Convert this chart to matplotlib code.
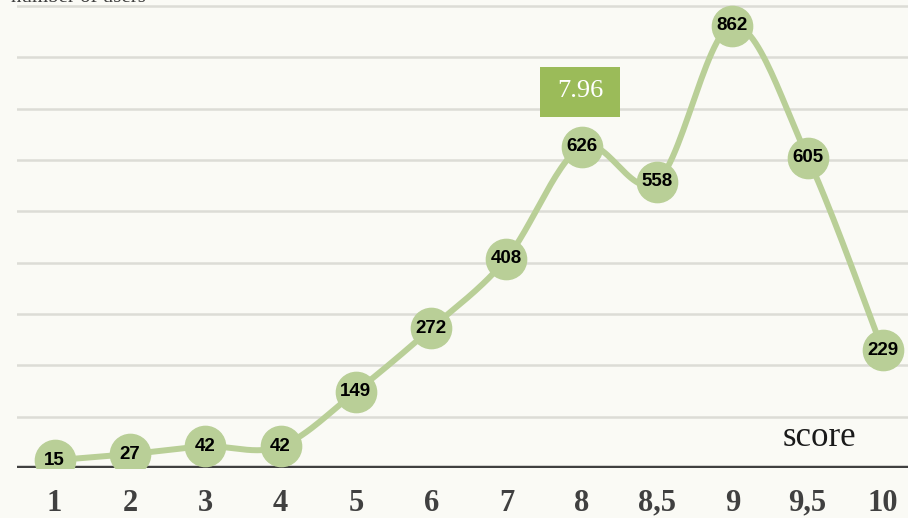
import numpy as np
import matplotlib.pyplot as plt
from matplotlib.patches import Rectangle

# score buckets and how many ratings landed in each
scores = ['1', '2', '3', '4', '5', '6', '7', '8', '8,5', '9', '9,5', '10']
counts = [15, 27, 42, 42, 149, 272, 408, 626, 558, 862, 605, 229]
mean_score = '7.96'

bg = '#fafaf5'
green = '#b9cf97'
box_green = '#9bbb59'


def smooth(xs, ys, steps=30):
    """Catmull-Rom curve through the points, like a spreadsheet's smoothed line."""
    px = np.concatenate([[xs[0]], xs, [xs[-1]]])
    py = np.concatenate([[ys[0]], ys, [ys[-1]]])
    t = np.linspace(0, 1, steps)
    out_x, out_y = [], []
    for i in range(1, len(px) - 2):
        for p, out in ((px, out_x), (py, out_y)):
            p0, p1, p2, p3 = p[i - 1], p[i], p[i + 1], p[i + 2]
            out.extend(0.5 * (2 * p1 + (-p0 + p2) * t
                              + (2 * p0 - 5 * p1 + 4 * p2 - p3) * t ** 2
                              + (-p0 + 3 * p1 - 3 * p2 + p3) * t ** 3))
    return np.array(out_x), np.array(out_y)


fig = plt.figure(figsize=(9.08, 5.18), dpi=100, facecolor=bg)
ax = fig.add_axes([17 / 908, 50 / 518, 1 - 17 / 908, 1 - 50 / 518])
ax.set_facecolor(bg)

x = np.arange(len(scores), dtype=float)
y = np.array(counts, dtype=float)

for g in range(100, 1000, 100):
    ax.axhline(g, color='#dcdcd6', lw=1.8, zorder=0)
ax.axhline(0, color='#404040', lw=3.2, zorder=1)

sx, sy = smooth(x, y)
ax.plot(sx, sy, color=green, lw=4.3, zorder=2, solid_capstyle='round')
ax.plot(x, y, 'o', ms=29, color=green, mec=green, zorder=3)
for xi, yi in zip(x, counts):
    ax.text(xi, yi, str(yi), ha='center', va='center', fontsize=13.5,
            fontweight='bold', family='Liberation Sans', color='black', zorder=4)

# mean score badge above the 8 bucket
ax.add_patch(Rectangle((6.45, 684), 1.06, 98, fc=box_green, ec='none', zorder=5))
ax.text(6.98, 735, mean_score, ha='center', va='center', fontsize=19,
        family='Liberation Serif', color='white', zorder=6)

ax.text(10.15, 60, 'score', ha='center', va='center', fontsize=25,
        family='Liberation Serif', color='#1a1a1a')

ax.set_xlim(-0.5, (908 - 17) / 75.3 - 0.5)
ax.set_ylim(0, 912)
ax.set_xticks(x)
ax.set_xticklabels(scores, fontsize=22, fontweight='bold',
                   family='Liberation Serif', color='#404040')
ax.tick_params(axis='x', length=0, pad=15)
ax.set_yticks([])
for s in ax.spines.values():
    s.set_visible(False)

fig.text(0.012, 1 - 2 / 518, 'number of users', ha='left', va='baseline',
         fontsize=15, family='Liberation Serif', color='#404040')

fig.savefig('out.png', dpi=100, facecolor=bg)
